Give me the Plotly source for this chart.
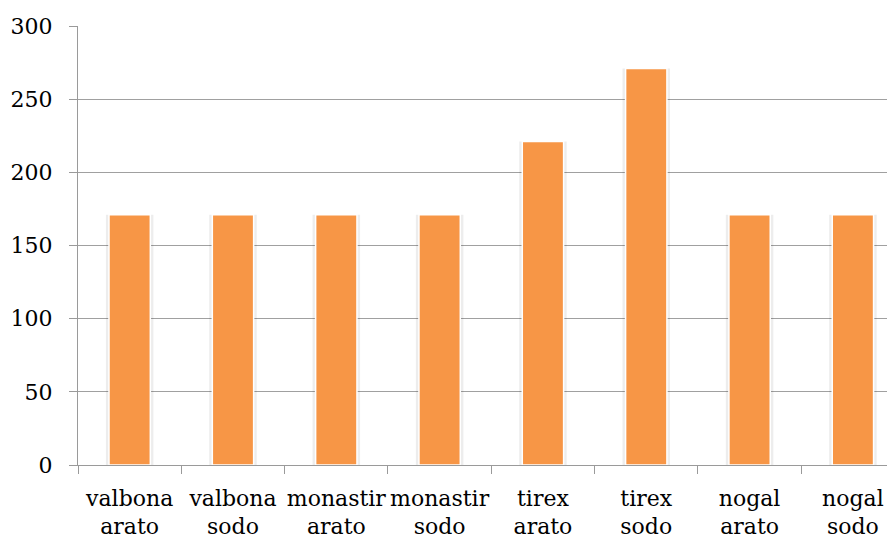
import plotly.graph_objects as go

categories = ["valbona<br>arato", "valbona<br>sodo", "monastir<br>arato", "monastir<br>sodo",
              "tirex<br>arato", "tirex<br>sodo", "nogal<br>arato", "nogal<br>sodo"]
values = [171, 171, 171, 171, 221, 271, 171, 171]
y_ticks = [0, 50, 100, 150, 200, 250, 300]

fig = go.Figure()
# soft shadow behind bars
fig.add_trace(go.Bar(x=categories, y=values, width=0.46, offset=-0.23,
                     marker=dict(color="rgba(0,0,0,0.07)", line=dict(width=0)),
                     hoverinfo="skip", showlegend=False))
fig.add_trace(go.Bar(x=categories, y=values, width=0.4,
                     marker=dict(color="#F79646", line=dict(color="white", width=1.5)),
                     showlegend=False))

fig.update_layout(
    width=887, height=538,
    margin=dict(l=78, r=0, t=26, b=73),
    paper_bgcolor="white", plot_bgcolor="white",
    barmode="overlay",
    font=dict(family="DejaVu Serif", size=22, color="#000000"),
)
fig.update_xaxes(
    type="category", range=[-0.5, 7.33], automargin=False,
    showline=True, linecolor="#9a9a9a", linewidth=1.3,
    ticks="outside", tickson="boundaries", ticklen=8, tickcolor="#9a9a9a",
    showgrid=False, tickfont=dict(family="DejaVu Serif", size=22),
    tickangle=0, ticklabelstandoff=13,
)
fig.update_yaxes(
    range=[0, 300], tickvals=y_ticks, automargin=False,
    showline=True, linecolor="#9a9a9a", linewidth=1.3,
    ticks="outside", ticklen=8, tickcolor="#9a9a9a",
    showgrid=True, gridcolor="#a0a0a0", gridwidth=1.3,
    zeroline=False, ticklabelstandoff=12,
    tickfont=dict(family="DejaVu Serif", size=22),
)
fig.write_html(
    "out.html",
    config={"displayModeBar": False},
    post_script="document.body.style.margin='0';document.body.style.overflow='hidden';",
)
